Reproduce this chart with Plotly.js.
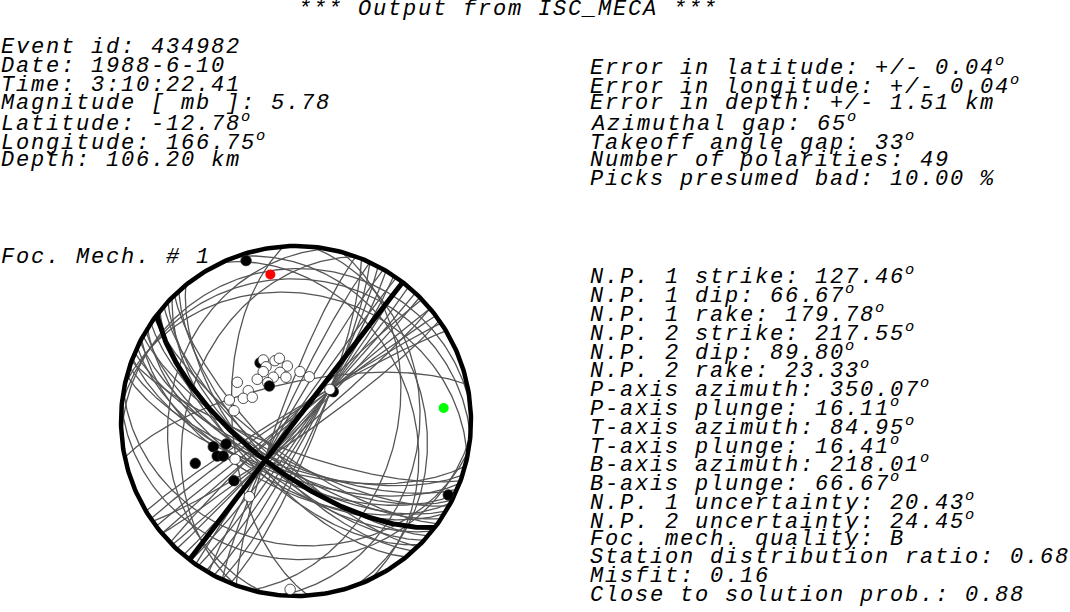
<!DOCTYPE html>
<html><head><meta charset="utf-8">
<script src="https://cdn.plot.ly/plotly-3.0.1.min.js"></script>
<style>html,body{margin:0;padding:0;background:#fff}#chart{width:1070px;height:612px}
.annotation-text{letter-spacing:1.8px}</style>
</head><body><div id="chart"></div>
<script>
// ---------- text content ----------
const titleText = "*** Output from ISC_MECA ***";
const eventLines = [
  "Event id: 434982",
  "Date: 1988-6-10",
  "Time: 3:10:22.41",
  "Magnitude [ mb ]: 5.78",
  "Latitude: -12.78<sup>o</sup>",
  "Longitude: 166.75<sup>o</sup>",
  "Depth: 106.20 km"
];
const errorLines = [
  "Error in latitude: +/- 0.04<sup>o</sup>",
  "Error in longitude: +/- 0.04<sup>o</sup>",
  "Error in depth: +/- 1.51 km",
  "Azimuthal gap: 65<sup>o</sup>",
  "Takeoff angle gap: 33<sup>o</sup>",
  "Number of polarities: 49",
  "Picks presumed bad: 10.00 %"
];
const mechLabel = "Foc. Mech. # 1";
const mechLines = [
  "N.P. 1 strike: 127.46<sup>o</sup>",
  "N.P. 1 dip: 66.67<sup>o</sup>",
  "N.P. 1 rake: 179.78<sup>o</sup>",
  "N.P. 2 strike: 217.55<sup>o</sup>",
  "N.P. 2 dip: 89.80<sup>o</sup>",
  "N.P. 2 rake: 23.33<sup>o</sup>",
  "P-axis azimuth: 350.07<sup>o</sup>",
  "P-axis plunge: 16.11<sup>o</sup>",
  "T-axis azimuth: 84.95<sup>o</sup>",
  "T-axis plunge: 16.41<sup>o</sup>",
  "B-axis azimuth: 218.01<sup>o</sup>",
  "B-axis plunge: 66.67<sup>o</sup>",
  "N.P. 1 uncertainty: 20.43<sup>o</sup>",
  "N.P. 2 uncertainty: 24.45<sup>o</sup>",
  "Foc. mech. quality: B",
  "Station distribution ratio: 0.68",
  "Misfit: 0.16",
  "Close to solution prob.: 0.88"
];

// ---------- best solution ----------
const bestStrike = [127.46, 217.55];
const bestDip = [66.67, 89.80];
const pAxis = {azimuth: 350.07, plunge: 16.11};
const tAxis = {azimuth: 84.95, plunge: 16.41};

// ---------- accepted solutions' planes ----------
const grayStrike = [
  // NP1-like family
  105,108,111,113,115,117,119,121,122,124,126,129,131,133,135,138,141,110,118,136,
  // NP2-like family
  22,25,28,31,34,37,40,43,230,233,236,239,200,205,210,215,45,50,55,226,
  // other planes
  335,340,5,15,
  275,282,265,
  190,200,
  95,100,
  258,176
];
const graySDip = [
  66,68,64,70,62,67,72,65,60,69,74,63,70,66,61,68,64,76,58,73,
  80,81,83,84,85,86,87,88,89,88,86,85,82,84,86,88,87,85,83,87,
  35,28,30,42,
  20,28,14,
  28,38,
  22,30,
  72,60
];

// ---------- polarities (azimuth, takeoff angle, sign) ----------
const polAzimuth = [328.3,331.8,340.8,345.1,331.1,351.0,326.4,341.8,317.1,332.6,347.1,4.6,16.7,323.6,322.7,
  303.4,302.4,293.3,298.5,287.5,279.4,51.8,47.0,237.9,211.7,182.0,342.7,252.7,251.8,246.0,244.3,247.2,226.1,115.9];
const polTakeoff = [32.1,32.5,29.9,30.4,29.0,26.0,27.7,23.9,26.6,23.0,20.9,23.1,21.5,22.2,20.5,
  33.0,26.4,26.8,23.2,32.8,29.4,22.1,21.6,33.8,42.1,85.8,85.5,41.0,34.6,40.8,38.1,52.4,40.7,86.3];
const polSign = ['C','D','D','D','D','D','D','D','D','D','D','D','D','D','C',
  'D','D','D','D','D','D','C','D','D','D','D','C','C','C','C','C','C','C','C'];

// ---------- projection helpers (lower hemisphere, equal area) ----------
const R = Math.PI/180;
function proj(e, n, z){ if (z < 0){e=-e;n=-n;z=-z;} const k = 1/Math.sqrt(1+z); return [e*k, n*k]; }
function planeCurve(strike, dip){
  const s = strike*R, d = dip*R, xs = [], ys = [];
  for (let t = 0; t <= 180; t += 1){
    const tt = t*R;
    const e = Math.cos(tt)*Math.sin(s) + Math.sin(tt)*Math.cos(d)*Math.cos(s);
    const n = Math.cos(tt)*Math.cos(s) - Math.sin(tt)*Math.cos(d)*Math.sin(s);
    const z = Math.sin(tt)*Math.sin(d);
    const p = proj(e, n, z); xs.push(p[0]); ys.push(p[1]);
  }
  return [xs, ys];
}
function axisPoint(az, pl){
  const a = az*R, p = pl*R;
  return proj(Math.cos(p)*Math.sin(a), Math.cos(p)*Math.cos(a), Math.sin(p));
}
function rayPoint(az, inc){
  const a = az*R, i = inc*R;
  return proj(Math.sin(i)*Math.sin(a), Math.sin(i)*Math.cos(a), Math.cos(i));
}

const traces = [];
let gx = [], gy = [];
for (let k = 0; k < grayStrike.length; k++){
  const c = planeCurve(grayStrike[k], graySDip[k]);
  gx = gx.concat(c[0], [null]); gy = gy.concat(c[1], [null]);
}
traces.push({x: gx, y: gy, mode: 'lines', line: {color: '#555555', width: 1.3}, hoverinfo: 'skip'});
for (let k = 0; k < bestStrike.length; k++){
  const c = planeCurve(bestStrike[k], bestDip[k]);
  traces.push({x: c[0], y: c[1], mode: 'lines', line: {color: '#000', width: 5}, hoverinfo: 'skip'});
}
const cx = [], cy = [];
for (let t = 0; t <= 360; t += 1){ cx.push(Math.sin(t*R)); cy.push(Math.cos(t*R)); }
traces.push({x: cx, y: cy, mode: 'lines', line: {color: '#000', width: 4.5}, hoverinfo: 'skip'});
const px = [], py = [], pc = [];
for (let k = 0; k < polAzimuth.length; k++){
  const p = rayPoint(polAzimuth[k], polTakeoff[k]);
  px.push(p[0]); py.push(p[1]); pc.push(polSign[k] === 'C' ? '#000' : '#fff');
}
traces.push({x: px, y: py, mode: 'markers', cliponaxis: false,
  marker: {size: 10.5, color: pc, line: {color: '#222', width: 0.8}}, hoverinfo: 'skip'});
const pp = axisPoint(pAxis.azimuth, pAxis.plunge), tp = axisPoint(tAxis.azimuth, tAxis.plunge);
traces.push({x: [pp[0]], y: [pp[1]], mode: 'markers', cliponaxis: false, marker: {size: 10, color: '#ff0000'}, hoverinfo: 'skip'});
traces.push({x: [tp[0]], y: [tp[1]], mode: 'markers', cliponaxis: false, marker: {size: 10, color: '#00ff00'}, hoverinfo: 'skip'});

// ---------- text annotations ----------
const W = 1070, H = 612;
const font = {family: 'Liberation Mono, Courier New, monospace', size: 22, color: '#000', style: 'italic'};
const LS = 18.8, MID = 5.85;
const ann = [];
function addLine(text, xpx, baseline, anchor){
  ann.push({text: text, xref: 'paper', yref: 'paper',
    x: xpx/W, y: 1 - (baseline - MID)/H, xanchor: anchor || 'left', yanchor: 'middle',
    showarrow: false, font: font, borderpad: 0, borderwidth: 0});
}
addLine(titleText, 298, 15.3);
eventLines.forEach((t, i) => addLine(t, 1, 53.3 + i*LS));
errorLines.forEach((t, i) => addLine(t, 590, 72.1 + i*LS));
addLine(mechLabel, 1, 263.7);
mechLines.forEach((t, i) => addLine(t, 590, 281.7 + i*LS));

const half = 1.03, Rpx = 175, cxp = 296, cyp = 612 - 421;
const layout = {
  width: W, height: H, margin: {l: 0, r: 0, t: 0, b: 0},
  paper_bgcolor: '#fff', plot_bgcolor: 'rgba(0,0,0,0)', showlegend: false,
  xaxis: {visible: false, range: [-half, half], domain: [(cxp - Rpx*half)/W, (cxp + Rpx*half)/W], fixedrange: true},
  yaxis: {visible: false, range: [-half, half], domain: [(cyp - Rpx*half)/H, (cyp + Rpx*half)/H], fixedrange: true},
  annotations: ann
};
Plotly.newPlot('chart', traces, layout, {displayModeBar: false, staticPlot: true});
</script>
</body></html>
